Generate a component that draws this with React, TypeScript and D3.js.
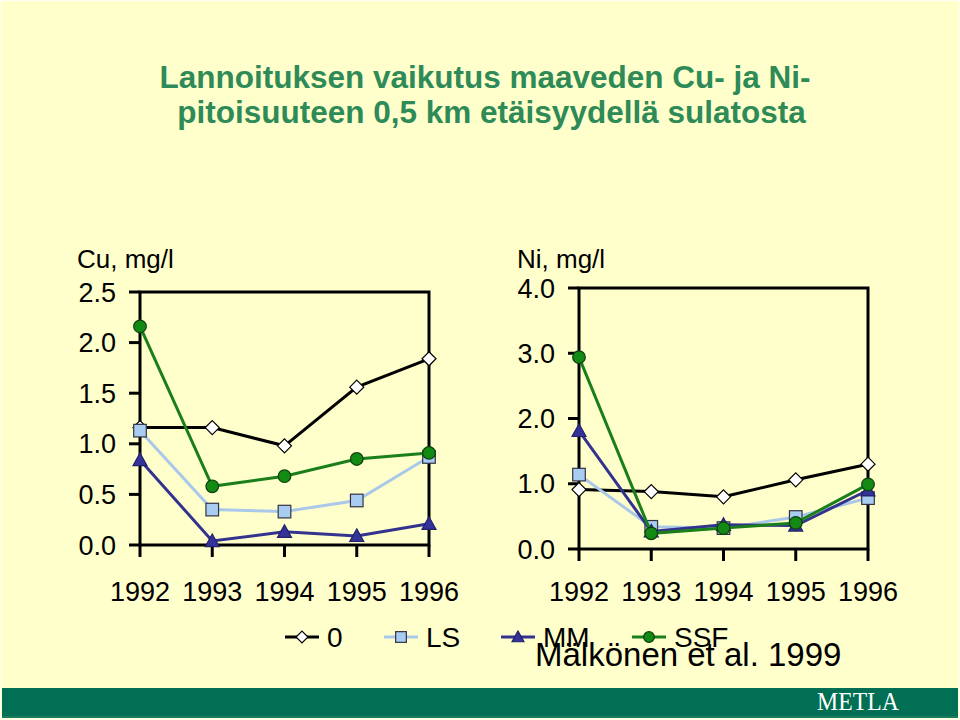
import React from "react";
import * as d3 from "d3";

const years = ["1992", "1993", "1994", "1995", "1996"];
const seriesNames = ["0", "LS", "MM", "SSF"];

const cu0 = [1.16, 1.16, 0.98, 1.56, 1.84];
const cuLS = [1.13, 0.35, 0.33, 0.44, 0.87];
const cuMM = [0.84, 0.04, 0.13, 0.09, 0.21];
const cuSSF = [2.16, 0.58, 0.68, 0.85, 0.91];

const ni0 = [0.91, 0.88, 0.8, 1.06, 1.3];
const niLS = [1.14, 0.34, 0.32, 0.49, 0.78];
const niMM = [1.81, 0.27, 0.37, 0.36, 0.9];
const niSSF = [2.94, 0.24, 0.32, 0.4, 0.99];

const cuTicks = [0, 0.5, 1.0, 1.5, 2.0, 2.5];
const niTicks = [0, 1.0, 2.0, 3.0, 4.0];

const styles = [
  { line: "#000000", fill: "#ffffff", stroke: "#000000", shape: "diamond" },
  { line: "#a9c8ea", fill: "#a9ccf2", stroke: "#333344", shape: "square" },
  { line: "#33338f", fill: "#33339a", stroke: "#22226a", shape: "triangle" },
  { line: "#1a7f1a", fill: "#138a13", stroke: "#0d400d", shape: "circle" },
];

const FONT = "Liberation Sans, Arial, sans-serif";

function Marker({ shape, x, y, fill, stroke, s = 1 }: any) {
  if (shape === "diamond") {
    const r = 7 * s;
    return (
      <path
        d={`M${x},${y - r}L${x + r},${y}L${x},${y + r}L${x - r},${y}Z`}
        fill={fill}
        stroke={stroke}
        strokeWidth={1.2}
      />
    );
  }
  if (shape === "square") {
    const h = 6.3 * s;
    return <rect x={x - h} y={y - h} width={2 * h} height={2 * h} fill={fill} stroke={stroke} strokeWidth={1.2} />;
  }
  if (shape === "triangle") {
    const h = 7 * s;
    return (
      <path
        d={`M${x},${y - h}L${x + h},${y + h * 0.8}L${x - h},${y + h * 0.8}Z`}
        fill={fill}
        stroke={stroke}
        strokeWidth={1.2}
      />
    );
  }
  return <circle cx={x} cy={y} r={6.3 * s} fill={fill} stroke={stroke} strokeWidth={1.2} />;
}

function Panel({ x0, x1, yTop, yBot, max, ticks, data, label, labelX }: any) {
  const x = d3.scalePoint<string>().domain(years).range([x0, x1]);
  const y = d3.scaleLinear().domain([0, max]).range([yBot, yTop]);
  const line = d3
    .line<number>()
    .x((_, i) => x(years[i]) as number)
    .y((d) => y(d));
  return (
    <g>
      <text x={labelX} y={268} fontFamily={FONT} fontSize={26} fill="#000">
        {label}
      </text>
      <rect x={x0} y={yTop} width={x1 - x0} height={yBot - yTop} fill="none" stroke="#000" strokeWidth={3} />
      {ticks.map((t: number) => (
        <g key={t}>
          <line x1={x0 - 11} x2={x0} y1={y(t)} y2={y(t)} stroke="#000" strokeWidth={3} />
          <text
            x={x0 - 24}
            y={y(t) + 9.5}
            textAnchor="end"
            fontFamily={FONT}
            fontSize={27}
            fill="#000"
          >
            {d3.format(".1f")(t)}
          </text>
        </g>
      ))}
      {years.map((yr) => (
        <g key={yr}>
          <line x1={x(yr)} x2={x(yr)} y1={yBot} y2={yBot + 12} stroke="#000" strokeWidth={3} />
          <text x={x(yr)} y={601} textAnchor="middle" fontFamily={FONT} fontSize={27} fill="#000">
            {yr}
          </text>
        </g>
      ))}
      {data.map((vals: number[], si: number) => (
        <g key={si}>
          <path d={line(vals) as string} fill="none" stroke={styles[si].line} strokeWidth={3} />
          {vals.map((v, i) => (
            <Marker
              key={i}
              shape={styles[si].shape}
              x={x(years[i])}
              y={y(v)}
              fill={styles[si].fill}
              stroke={styles[si].stroke}
            />
          ))}
        </g>
      ))}
    </g>
  );
}

const legendX = [302, 401, 518, 649];

export default function App() {
  return (
    <svg
      width={960}
      height={720}
      style={{ position: "absolute", left: 0, top: 0, display: "block" }}
    >
      <rect x={0} y={0} width={960} height={720} fill="#ffffcc" />
      <rect x={0.5} y={0.5} width={959} height={719} fill="none" stroke="#fffff0" strokeWidth={1.5} />
      <text textAnchor="middle" fontFamily={FONT} fontWeight="bold" fontSize={31.5} fill="#2e8b57">
        <tspan x={485} y={88}>
          Lannoituksen vaikutus maaveden Cu- ja Ni-
        </tspan>
        <tspan x={491.5} y={123}>
          pitoisuuteen 0,5 km etäisyydellä sulatosta
        </tspan>
      </text>

      <Panel
        x0={140}
        x1={429}
        yTop={292}
        yBot={545}
        max={2.5}
        ticks={cuTicks}
        data={[cu0, cuLS, cuMM, cuSSF]}
        label="Cu, mg/l"
        labelX={77}
      />
      <Panel
        x0={579}
        x1={868}
        yTop={288}
        yBot={549}
        max={4.0}
        ticks={niTicks}
        data={[ni0, niLS, niMM, niSSF]}
        label="Ni, mg/l"
        labelX={517}
      />

      {seriesNames.map((name, i) => (
        <g key={name}>
          <line
            x1={legendX[i] - 17}
            x2={legendX[i] + 17}
            y1={637}
            y2={637}
            stroke={styles[i].line}
            strokeWidth={3}
          />
          <Marker
            shape={styles[i].shape}
            x={legendX[i]}
            y={637}
            fill={styles[i].fill}
            stroke={styles[i].stroke}
            s={0.85}
          />
          <text
            x={legendX[i] + 25}
            y={647}
            fontFamily={FONT}
            fontSize={28}
            fill="#000"
          >
            {name}
          </text>
        </g>
      ))}
      <text x={535} y={666} fontFamily={FONT} fontSize={33} fill="#000">
        Mälkönen et al. 1999
      </text>

      <rect x={2} y={688} width={956} height={30} fill="#006f53" />
      <line x1={2} x2={958} y1={717} y2={717} stroke="#2f8a6e" strokeWidth={1} />
      <text
        x={858}
        y={710}
        textAnchor="middle"
        fontFamily="Liberation Serif, Times New Roman, serif"
        fontSize={25}
        fill="#ffffff"
        transform="translate(858,0) scale(0.95,1) translate(-858,0)"
      >
        METLA
      </text>
    </svg>
  );
}
